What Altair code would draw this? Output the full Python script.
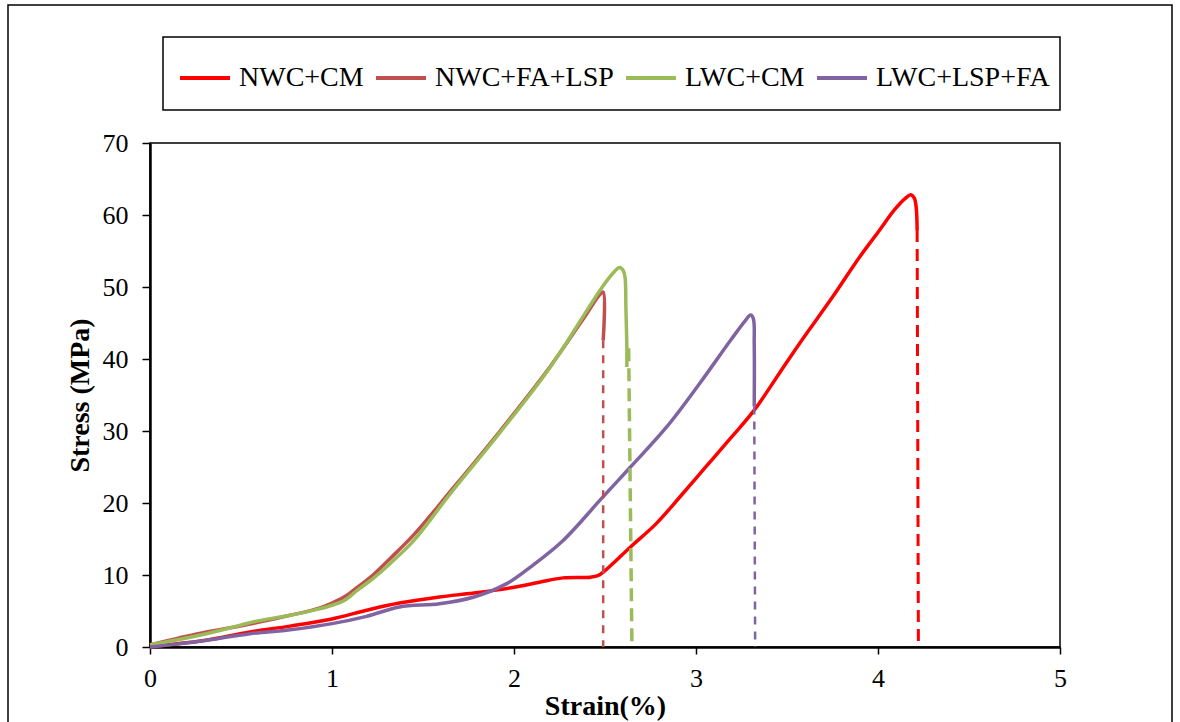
import altair as alt
import pandas as pd

SERIES = ["NWC+CM", "NWC+FA+LSP", "LWC+CM", "LWC+LSP+FA"]
COLORS = ["#FF0000", "#C0504D", "#9BBB59", "#8064A2"]

nwc_cm_strain = [0, 0.15, 0.31, 0.55, 0.77, 1.0, 1.19, 1.37, 1.59, 1.78, 2.0, 2.14, 2.27, 2.42,
                 2.46, 2.5, 2.64, 2.78, 2.91, 3.05, 3.19, 3.32, 3.46, 3.57, 3.75, 3.90, 4.00, 4.09,
                 4.15, 4.18, 4.20, 4.21, 4.215]
nwc_cm_stress = [0, 0.45, 0.95, 2.1, 2.9, 3.9, 5.1, 6.1, 6.95, 7.5, 8.3, 9.0, 9.6, 9.7,
                 9.9, 10.6, 13.9, 17.1, 20.8, 24.9, 29.0, 32.9, 38.1, 42.2, 48.6, 54.2, 57.6, 60.7,
                 62.3, 62.8, 62.3, 61.0, 57.9]

nwc_fa_lsp_strain = [0, 0.15, 0.31, 0.45, 0.57, 0.77, 0.93, 1.0, 1.07, 1.14, 1.23, 1.32, 1.45, 1.65,
                     1.92, 2.2, 2.4, 2.47, 2.49, 2.49]
nwc_fa_lsp_stress = [0.3, 1.2, 2.1, 2.7, 3.3, 4.4, 5.4, 6.1, 7.0, 8.3, 10.1, 12.3, 15.6, 21.6,
                     29.9, 39.0, 46.3, 48.9, 49.3, 42.6]

lwc_cm_strain = [0, 0.15, 0.31, 0.45, 0.57, 0.77, 0.93, 1.0, 1.07, 1.14, 1.23, 1.32, 1.45, 1.65,
                 1.92, 2.2, 2.474, 2.54, 2.58, 2.60, 2.61, 2.615, 2.62, 2.62]
lwc_cm_stress = [0.3, 1.0, 1.85, 2.7, 3.5, 4.4, 5.3, 5.8, 6.5, 7.9, 9.6, 11.6, 14.8, 21.3,
                 29.7, 38.9, 49.6, 51.8, 52.7, 52.3, 51.4, 47.0, 41.7, 38.9]

lwc_lsp_fa_strain = [0, 0.15, 0.31, 0.55, 0.77, 1.0, 1.19, 1.37, 1.59, 1.78, 1.96, 2.09, 2.27, 2.48,
                     2.64, 2.84, 3.02, 3.19, 3.27, 3.30, 3.315, 3.32, 3.32]
lwc_lsp_fa_stress = [0, 0.4, 0.93, 1.85, 2.4, 3.25, 4.26, 5.56, 6.0, 6.95, 8.8, 11.1, 14.8, 20.6,
                     25.0, 30.6, 36.6, 42.6, 45.3, 46.1, 45.6, 42.0, 33.4]

# dashed failure drops (start strain, start stress) -> (end strain, 0)
drop_start_strain = [4.215, 2.49, 2.63, 3.32]
drop_start_stress = [57.9, 42.6, 41.5, 33.4]
drop_end_strain = [4.222, 2.49, 2.648, 3.325]
drop_end_stress = [0, 0, 0, 0]

X_TICKS = [0, 1, 2, 3, 4, 5]
Y_TICKS = [0, 10, 20, 30, 40, 50, 60, 70]

FONT = "Liberation Serif"

curves = [
    (nwc_cm_strain, nwc_cm_stress),
    (nwc_fa_lsp_strain, nwc_fa_lsp_stress),
    (lwc_cm_strain, lwc_cm_stress),
    (lwc_lsp_fa_strain, lwc_lsp_fa_stress),
]
rows = []
for name, (xs, ys) in zip(SERIES, curves):
    for i, (a, b) in enumerate(zip(xs, ys)):
        rows.append({"series": name, "strain": a, "stress": b, "idx": i})
df = pd.DataFrame(rows)

drops = pd.DataFrame({
    "series": SERIES,
    "x0": drop_start_strain, "y0": drop_start_stress,
    "x1": drop_end_strain, "y1": drop_end_stress,
})

x_scale = alt.Scale(domain=[0, 5], nice=False)
y_scale = alt.Scale(domain=[0, 70], nice=False)
color_scale = alt.Scale(domain=SERIES, range=COLORS)

x_axis = alt.Axis(values=X_TICKS, format="d", grid=False, domainColor="black", domainWidth=2.5,
                  tickColor="black", tickWidth=1.5, tickSize=7, labelFont=FONT, labelFontSize=26,
                  labelColor="black", labelPadding=11, labelFlush=False, title="Strain(%)",
                  titleFont=FONT, titleFontSize=28, titleFontWeight="bold", titleColor="black",
                  titlePadding=1)
y_axis = alt.Axis(values=Y_TICKS, format="d", grid=False, domainColor="black", domainWidth=2.5,
                  tickColor="black", tickWidth=1.5, tickSize=8, labelFont=FONT, labelFontSize=26,
                  labelColor="black", labelPadding=14, labelFlush=False, title="Stress (MPa)",
                  titleFont=FONT, titleFontSize=28, titleFontWeight="bold", titleColor="black",
                  titlePadding=8)

legend = alt.Legend(orient="none", legendX=28, legendY=-92, direction="horizontal", columns=4,
                    columnPadding=4, symbolType="stroke", symbolSize=2500, symbolStrokeWidth=4,
                    labelFont=FONT, labelFontSize=28, labelColor="black", labelOffset=7,
                    title=None, padding=0, labelLimit=400)

one = pd.DataFrame({"k": [0]})
outer_border = alt.Chart(one).mark_rect(fillOpacity=0, stroke="black", strokeWidth=1.5).encode(
    x=alt.value(-142), x2=alt.value(1022), y=alt.value(-138), y2=alt.value(640))
legend_box = alt.Chart(one).mark_rect(fillOpacity=0, stroke="black", strokeWidth=1.5).encode(
    x=alt.value(13), x2=alt.value(910), y=alt.value(-106), y2=alt.value(-33))

lines = alt.Chart(df).mark_line(strokeWidth=3.5, clip=False, interpolate="catmull-rom").encode(
    x=alt.X("strain:Q", scale=x_scale, axis=x_axis),
    y=alt.Y("stress:Q", scale=y_scale, axis=y_axis),
    color=alt.Color("series:N", scale=color_scale, sort=SERIES, legend=legend),
    order=alt.Order("idx:Q"),
)

dash_styles = {
    "NWC+CM": ([12, 7], 3.0),
    "NWC+FA+LSP": ([8, 7], 2.5),
    "LWC+CM": ([13, 7], 3.5),
    "LWC+LSP+FA": ([8, 7], 2.5),
}
dash_layers = []
for name, color in zip(SERIES, COLORS):
    dash, w = dash_styles[name]
    dash_layers.append(
        alt.Chart(drops).transform_filter(alt.datum.series == name)
        .mark_rule(strokeDash=dash, strokeWidth=w, color=color)
        .encode(x=alt.X("x0:Q", scale=x_scale), x2="x1:Q",
                y=alt.Y("y0:Q", scale=y_scale), y2="y1:Q")
    )

chart = alt.layer(outer_border, legend_box, lines, *dash_layers).properties(
    width=910, height=504,
    padding={"left": 150, "top": 143, "right": 120, "bottom": 75},
    autosize=alt.AutoSizeParams(type="none"),
    background="white",
).configure_view(stroke="black", strokeWidth=1.5)

chart.save("out.html", embed_options={"renderer": "svg", "actions": False})
